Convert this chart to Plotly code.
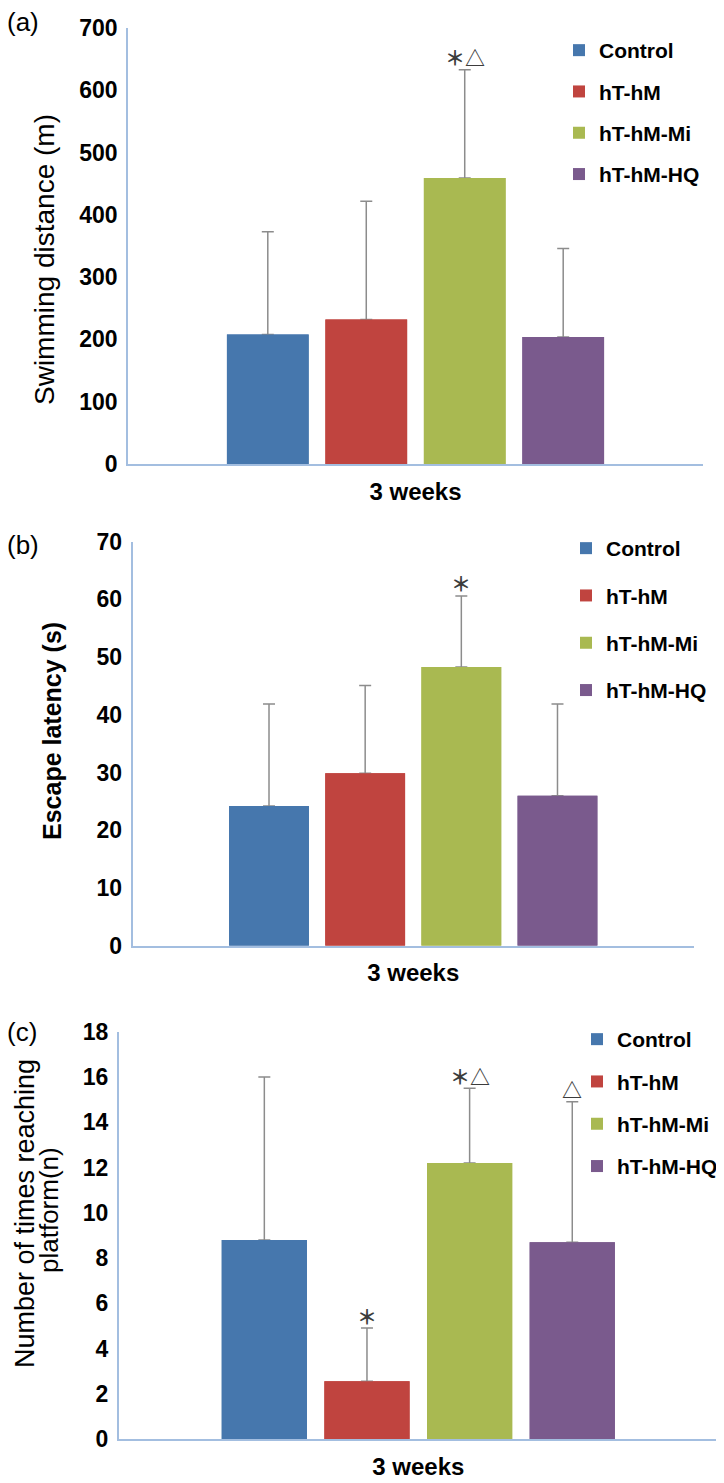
import plotly.graph_objects as go

W, H = 724, 1483
OFF = 8  # the page body adds an 8px margin; layout below is in screen pixels

groups = ["Control", "hT-hM", "hT-hM-Mi", "hT-hM-HQ"]
colors = ["#4677AD", "#C0443F", "#A9B951", "#7A5A8D"]
category = ["3 weeks"]

dist_mean = [208, 232, 459, 204]
dist_err = [165, 190, 174, 142]
lat_mean = [24.2, 29.9, 48.3, 26.0]
lat_err = [17.7, 15.2, 12.3, 15.9]
plat_mean = [8.8, 2.55, 12.2, 8.7]
plat_err = [7.2, 2.35, 3.3, 6.2]

dist_marks = ["", "", "＊△", ""]
lat_marks = ["", "", "＊", ""]
plat_marks = ["", "＊", "＊△", "△"]

panel_labels = ["(a)", "(b)", "(c)"]
y_titles = [["Swimming distance (m)"], ["Escape latency (s)"],
            ["Number of times reaching", "platform(n)"]]
y_ranges = [[0, 700], [0, 70], [0, 18]]
y_dticks = [100, 10, 2]

BARGAP = 0.315
GROUPGAP = 0.17

# pixel layout boxes (left, right, top, bottom), screen pixels
boxes = [(128, 703, 28, 464), (132.5, 694, 541.7, 945.7), (118.6, 718, 1031.7, 1439)]
legend_pos = [(559, 30, 11), (566, 528, 17), (577, 1019, 12)]  # left, top, groupgap
label_pos = [(23, 22), (23, 545), (22, 1032)]
# per title line: (x, y, size, weight)
title_pos = [[(45, 260, 28, "normal")], [(52, 731, 25, "bold")],
             [(25, 1214, 27, "normal"), (49, 1210, 26, "normal")]]

FONT = "Liberation Sans, Arial, sans-serif"
AXIS_COLOR = "#A3BEE0"

def px(x):
    return (x - OFF) / W

def py(y):
    return 1 - (y - OFF) / H

fig = go.Figure()
data = [(dist_mean, dist_err, dist_marks), (lat_mean, lat_err, lat_marks),
        (plat_mean, plat_err, plat_marks)]

annotations = []
for p, (means, errs, marks) in enumerate(data):
    suffix = "" if p == 0 else str(p + 1)
    leg = "legend" + suffix
    # error-bar carriers (drawn first, hidden under the visible bars)
    for g in range(4):
        fig.add_trace(go.Bar(
            x=category, y=[means[g]], name=groups[g], offsetgroup=str(g),
            marker=dict(color=colors[g], line=dict(width=0)),
            error_y=dict(type="data", array=[errs[g]], arrayminus=[0], symmetric=False,
                         color="#8C8C8C", thickness=1.5, width=6),
            xaxis="x" + suffix, yaxis="y" + suffix,
            showlegend=False, hoverinfo="skip",
        ))
    for g in range(4):
        fig.add_trace(go.Bar(
            x=category, y=[means[g]], name=groups[g], offsetgroup=str(g),
            marker=dict(color=colors[g], line=dict(width=0)),
            xaxis="x" + suffix, yaxis="y" + suffix,
            legend=leg, legendgroup=f"p{p}g{g}",
        ))
    # significance marks
    w = 1 - BARGAP
    slot = w / 4
    for g in range(4):
        if marks[g]:
            annotations.append(dict(
                x=-w / 2 + slot * (g + 0.5), y=means[g] + errs[g],
                xref="x" + suffix, yref="y" + suffix,
                text=marks[g], showarrow=False, yanchor="middle", yshift=12,
                font=dict(family="Noto Sans CJK SC", size=20, color="#3C3C3C", weight="bold"),
            ))
    l, r, t, b = boxes[p]
    fig.layout["xaxis" + suffix] = dict(
        domain=[px(l), px(r)], anchor="y" + suffix,
        showline=True, linecolor=AXIS_COLOR, linewidth=1.5, ticks="",
        showgrid=False, zeroline=False, ticklabelstandoff=5,
        tickfont=dict(family=FONT, size=24, color="black", weight="bold"),
    )
    fig.layout["yaxis" + suffix] = dict(
        domain=[py(b), py(t)], anchor="x" + suffix, range=y_ranges[p],
        tick0=0, dtick=y_dticks[p],
        showline=True, linecolor=AXIS_COLOR, linewidth=1.5, ticks="",
        showgrid=False, zeroline=False, ticklabelstandoff=4,
        tickfont=dict(family=FONT, size=23, color="black", weight="bold"),
    )
    lx, ly, gap = legend_pos[p]
    fig.layout[leg] = dict(
        x=px(lx), y=py(ly), xanchor="left", yanchor="top",
        bgcolor="rgba(0,0,0,0)", tracegroupgap=gap, itemwidth=30,
        font=dict(family=FONT, size=21, color="black", weight="bold"),
    )
    annotations.append(dict(
        x=px(label_pos[p][0]), y=py(label_pos[p][1]), xref="paper", yref="paper",
        text=panel_labels[p], showarrow=False, xanchor="center", yanchor="middle",
        font=dict(family=FONT, size=26, color="black"),
    ))
    for line, (tx, ty, ts, tw) in zip(y_titles[p], title_pos[p]):
        annotations.append(dict(
            x=px(tx), y=py(ty), xref="paper", yref="paper", textangle=-90,
            text=line, showarrow=False, xanchor="center", yanchor="middle",
            font=dict(family=FONT, size=ts, color="black", weight=tw),
        ))

fig.update_layout(
    width=W, height=H, margin=dict(l=0, r=0, t=0, b=0, autoexpand=False),
    paper_bgcolor="white", plot_bgcolor="white",
    barmode="group", bargap=BARGAP, bargroupgap=GROUPGAP,
    annotations=annotations,
)

fig.write_html("out.html")
